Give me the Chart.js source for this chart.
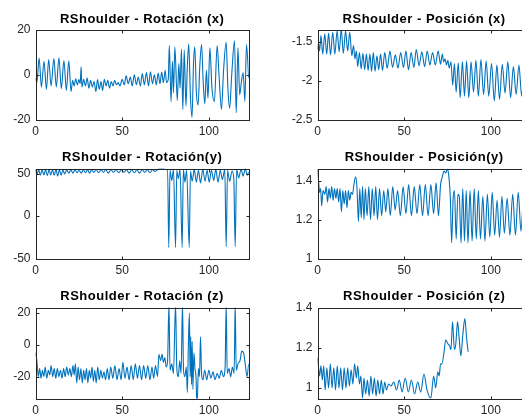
<!DOCTYPE html>
<html>
<head>
<meta charset="utf-8">
<script src="https://cdn.jsdelivr.net/npm/chart.js@4.4.1/dist/chart.umd.min.js"></script>
<style>
  body { margin: 0; background: #fff; overflow: hidden; width: 522px; height: 416px; position: relative; }
  canvas { position: absolute; }
</style>
</head>
<body>
<canvas id="rotX" width="261" height="139" style="left:0;top:0"></canvas>
<canvas id="posX" width="280" height="139" style="left:261px;top:0"></canvas>
<canvas id="rotY" width="261" height="139" style="left:0;top:139px"></canvas>
<canvas id="posY" width="280" height="139" style="left:261px;top:139px"></canvas>
<canvas id="rotZ" width="261" height="138" style="left:0;top:278px"></canvas>
<canvas id="posZ" width="280" height="138" style="left:261px;top:278px"></canvas>
<script>
// eje x comun (frames)
const xTicks = [0, 50, 100];
const xMax = 123;

// Rotacion (x)
const tRotX = [0,0.8,2.1,3.4,4.9,6.3,7.6,9.0,10.6,12.0,13.5,14.9,16.4,17.8,19.2,20.5,21.4,22.3,23.2,24.2,25.0,25.8,26.3,26.8,27.8,28.8,29.8,30.8,31.8,32.8,33.8,34.8,35.8,36.8,37.8,38.7,39.7,40.7,41.7,42.7,43.7,44.7,45.7,46.7,47.7,48.7,50.0,51.2,52.3,53.5,54.7,55.8,57.0,58.2,59.3,60.5,61.6,62.8,64.0,65.2,66.3,67.5,68.6,69.7,70.8,71.8,72.8,73.8,74.8,75.6,76.6,77.2,78.2,79.0,79.6,80.4,81.8,82.7,83.4,84.2,85.0,85.8,86.8,87.6,88.4,89.4,90.3,91.2,91.9,92.8,93.8,94.8,95.8,96.8,97.7,98.6,99.5,100.6,101.8,103.2,104.8,106.0,107.3,108.5,110.0,111.0,112.0,113.2,114.8,115.8,116.8,117.8,118.8,119.8,120.8,121.7,123.0];
const rotX = [-1.5,-3.5,7.5,-5.5,6.0,-6.5,6.8,-5.0,7.2,-5.5,7.6,-6.2,6.3,-7.0,6.2,-7.5,-2.5,-5.0,-1.8,-4.5,-2.2,-4.0,3.5,-5.5,-2.0,-5.0,-1.5,-6.0,-2.5,-5.5,-3.0,-7.5,-2.2,-6.5,-3.0,-7.0,-2.0,-5.0,-2.5,-6.0,-3.0,-5.0,-2.5,-4.5,-3.5,-5.0,-2.0,-4.5,-0.5,-4.0,-1.0,-5.0,0.0,-4.5,-1.0,-5.0,0.5,-4.5,1.0,-5.0,1.3,-4.0,0.0,-4.5,0.8,-4.0,1.2,-3.5,2.0,-3.5,-2.0,13.0,-12.0,6.0,-8.0,12.5,-11.5,5.0,-6.0,11.5,-15.5,11.0,-14.0,4.0,13.8,-10.0,-19.0,6.0,12.5,-8.0,-13.5,4.0,13.5,-4.0,-13.0,2.0,-10.5,12.0,-6.0,-12.0,13.0,-2.0,-15.5,2.0,14.5,-6.0,-15.0,0.0,15.2,-17.0,12.0,-9.0,-3.0,1.0,-12.0,13.5,-1.5];

// Posicion (x)
const tPosX = [0,0.6,1.2,2.0,3.0,4.2,5.3,6.4,7.5,8.8,10.0,11.3,12.5,13.7,14.9,16.2,17.4,18.6,19.8,20.8,21.6,22.4,23.2,24.2,25.2,26.2,27.2,28.2,29.2,30.2,31.2,32.2,33.2,34.3,35.3,36.4,37.5,38.8,40.2,41.8,43.3,44.9,46.4,48.0,49.6,51.0,52.5,54.0,55.6,57.0,58.6,60.2,61.8,63.3,64.8,66.4,68.0,69.6,71.0,72.0,72.8,73.6,74.4,75.2,76.0,77.0,78.0,79.0,80.0,81.2,82.3,83.6,84.8,86.0,87.3,88.6,90.0,91.4,92.8,94.3,95.8,97.3,98.8,100.4,102.0,103.5,105.0,106.6,108.2,109.8,111.4,113.0,114.6,116.2,117.8,119.4,121.0,123.0];
const posX = [-1.60,-1.52,-1.62,-1.42,-1.66,-1.40,-1.66,-1.39,-1.67,-1.38,-1.66,-1.36,-1.63,-1.34,-1.65,-1.36,-1.62,-1.38,-1.68,-1.55,-1.72,-1.62,-1.82,-1.64,-1.85,-1.65,-1.86,-1.66,-1.87,-1.66,-1.88,-1.64,-1.88,-1.68,-1.86,-1.66,-1.87,-1.64,-1.84,-1.62,-1.83,-1.67,-1.84,-1.64,-1.83,-1.62,-1.86,-1.64,-1.83,-1.60,-1.81,-1.63,-1.82,-1.62,-1.80,-1.64,-1.80,-1.62,-1.79,-1.66,-1.76,-1.72,-1.80,-1.74,-1.84,-1.76,-2.06,-1.78,-2.15,-1.77,-2.22,-1.76,-2.20,-1.75,-2.22,-1.76,-2.15,-1.74,-2.20,-1.73,-2.18,-1.75,-2.20,-1.78,-2.26,-1.80,-2.24,-1.79,-2.16,-1.76,-2.22,-1.82,-2.18,-1.80,-2.20,-1.78,-2.05,-1.85];

// Rotacion (y)
const tRotY = [0,0.8,1.8,2.8,3.8,4.8,5.8,6.8,7.8,8.8,9.8,10.8,11.8,12.8,13.8,14.8,15.8,16.8,18.0,19.2,20.4,21.6,22.8,24.0,25.2,26.4,27.6,28.8,30.0,31.2,32.4,33.6,35.0,36.4,37.8,39.2,40.6,42.0,43.5,45.0,46.5,48.0,49.5,51.0,52.5,54.0,55.5,57.0,58.5,60.0,61.5,63.0,64.5,66.0,67.5,69.0,70.5,72.0,74.0,75.5,76.2,76.9,77.6,78.6,79.6,80.8,81.5,82.4,83.4,84.6,85.3,86.2,87.2,88.7,89.4,90.4,91.6,92.8,94.0,95.2,96.5,97.8,99.0,100.2,101.5,102.8,104.0,105.3,106.6,107.8,109.2,110.0,110.8,112.0,113.4,114.4,115.2,116.0,117.2,118.6,119.8,121.0,122.2,123.0];
const rotY = [55,48.5,55,48,54.5,48.5,54.5,47.5,54.5,48.5,54.5,48,55,47,54.5,48,54.5,49.5,54.5,50.5,54.5,50.5,54.5,51,54,50.5,54.5,51,54.5,50.5,54.5,51.5,54.5,51,54.5,51.5,54.5,50.5,54.5,51.5,54.5,51,54.5,51.5,54.5,50.5,54.5,51,54.5,50.5,54.5,51.5,54.5,51,54.5,52.5,55,55.5,55.5,54.5,55,-37,54,42,55,-37,54,44,55,-37,55,40,54,-37,53,41,55,40,54,39,55,41,54,40,54,42,55,40,54,43,55,-36,54,41,53,44,-36,55,45,55,47,56,48,52];

// Posicion (y)
const tPosY = [0,0.6,1.2,1.8,2.4,3.2,4.2,5.0,5.8,6.6,7.4,8.2,9.0,9.8,10.6,11.4,12.2,13.0,13.8,14.6,15.4,16.2,17.0,17.8,18.6,19.4,20.2,21.0,22.0,22.8,23.6,24.4,25.2,26.0,26.8,27.6,28.6,29.6,30.6,31.6,32.6,33.6,34.6,35.8,37.0,38.2,39.4,40.6,42.0,43.4,44.8,46.2,47.8,49.4,51.0,52.6,54.2,55.8,57.4,59.0,60.6,62.2,63.8,65.4,67.0,68.4,69.8,71.0,72.0,73.0,74.0,75.0,75.8,76.6,77.4,78.2,79.0,80.0,81.0,81.8,82.8,83.8,84.8,85.8,86.8,88.0,89.2,90.4,91.6,92.8,94.0,95.4,96.6,98.0,99.4,100.8,102.2,103.6,105.0,106.4,107.8,109.4,111.0,112.6,114.2,115.8,117.4,119.0,120.6,122.2,123.0];
const posY = [1.46,1.40,1.34,1.36,1.27,1.35,1.33,1.37,1.29,1.36,1.31,1.37,1.30,1.36,1.31,1.36,1.29,1.36,1.24,1.35,1.28,1.35,1.26,1.35,1.30,1.34,1.33,1.38,1.42,1.36,1.19,1.36,1.21,1.37,1.20,1.36,1.22,1.37,1.20,1.36,1.22,1.37,1.20,1.36,1.22,1.35,1.24,1.36,1.22,1.37,1.25,1.35,1.22,1.37,1.23,1.38,1.22,1.37,1.23,1.38,1.22,1.38,1.22,1.38,1.23,1.39,1.22,1.38,1.42,1.45,1.44,1.46,1.42,1.32,1.08,1.30,1.35,1.10,1.33,1.32,1.08,1.36,1.09,1.35,1.08,1.35,1.09,1.36,1.10,1.35,1.10,1.32,1.09,1.33,1.11,1.34,1.12,1.30,1.11,1.32,1.13,1.31,1.12,1.33,1.12,1.34,1.14,1.33,1.12,1.33,1.25];

// Rotacion (z)
const tRotZ = [0,0.8,1.6,2.4,3.2,4.0,4.8,5.6,6.5,7.4,8.2,9.0,9.9,10.8,11.7,12.6,13.5,14.4,15.3,16.2,17.1,18.0,18.9,19.8,20.7,21.6,22.3,23.0,23.8,24.6,25.4,26.2,27.0,27.8,28.6,29.4,30.2,31.0,31.8,32.6,33.4,34.2,35.0,35.9,36.8,37.7,38.6,39.5,40.4,41.4,42.4,43.4,44.6,45.8,47.0,48.2,49.4,50.4,51.6,52.8,54.0,55.2,56.4,57.6,58.8,60.0,61.2,62.4,63.6,64.8,66.0,67.2,68.2,69.2,70.4,71.2,72.2,73.0,73.8,74.6,75.4,76.2,77.0,77.6,78.6,79.6,80.8,81.5,82.4,83.2,84.0,84.8,85.4,86.2,87.0,87.6,88.2,88.8,89.2,89.6,90.0,90.4,90.8,91.4,92.0,92.6,93.2,94.0,94.6,95.2,95.8,96.6,97.6,98.8,100.0,101.2,102.4,103.6,104.8,106.0,107.2,108.4,109.4,110.0,110.6,111.6,112.6,113.6,114.6,115.2,115.8,116.8,118.0,119.0,120.0,121.0,122.0,123.0];
const rotZ = [-5,-10,-20,-15,-21,-16,-20,-14,-21,-16,-19,-13,-20,-15,-21,-15,-20,-16,-21,-15,-20,-14,-19,-15,-20,-13,-19,-12,-24,-14,-22,-15,-24,-16,-22,-15,-24,-16,-21,-14,-23,-16,-24,-14,-22,-16,-21,-17,-22,-15,-22,-14,-21,-13,-22,-15,-22,-11,-21,-14,-22,-13,-22,-12,-21,-13,-22,-13,-21,-13,-22,-14,-21,-13,-20,-6,-10,-6,-11,-8,-14,-10,26,-16,-12,-18,26,-14,-20,-10,-18,26,-16,-20,-14,-30,0,20,-20,5,-25,2,-28,-5,-15,-20,-40,-15,-20,5,-18,-22,-16,-22,-16,-21,-17,-22,-18,-21,-16,-20,-14,26,-18,-15,-20,-14,-18,26,-16,-12,-10,-4,-5,-12,-20,-12];

// Posicion (z)
const tPosZ = [0,0.6,1.2,2.0,2.8,3.6,4.4,5.4,6.4,7.4,8.4,9.4,10.4,11.4,12.4,13.4,14.4,15.4,16.4,17.4,18.4,19.4,20.4,21.4,22.4,23.2,24.2,25.0,26.0,26.8,27.8,28.8,29.8,30.8,31.8,32.8,33.8,34.8,35.8,36.8,37.8,38.8,39.8,41.0,42.4,44.0,45.6,47.2,48.8,50.6,52.4,54.2,56.0,57.8,59.6,61.4,63.2,65.4,67.0,68.2,69.4,70.2,71.0,71.8,73.0,74.0,75.2,76.2,77.0,77.9,79.0,79.8,80.8,81.7,82.7,83.8,85.0,86.0,86.9];
const posZ = [1.15,1.10,1.06,1.11,1.04,1.11,0.99,1.10,1.00,1.12,1.00,1.10,0.99,1.11,1.00,1.10,0.99,1.10,1.00,1.10,1.01,1.09,1.02,1.12,1.05,1.11,1.02,1.06,0.95,1.05,0.97,1.04,0.96,1.06,0.97,1.05,0.96,1.04,0.97,1.04,0.97,1.03,0.99,1.02,1.01,1.03,0.99,1.04,0.98,1.05,0.98,1.04,0.97,1.03,0.98,1.07,0.99,0.95,1.06,1.00,1.08,1.06,1.12,1.12,1.18,1.24,1.22,1.21,1.19,1.33,1.19,1.22,1.33,1.25,1.16,1.26,1.345,1.25,1.18];

const FONT = '"Liberation Sans", Arial, Helvetica, sans-serif';
const AXIS = '#262626';

// marco completo con marcas hacia dentro (estilo MATLAB) y titulo en negrita
const axesBox = {
  id: 'axesBox',
  afterDraw(chart, args, opts) {
    const { ctx, chartArea: a, scales } = chart;
    const L = Math.round(a.left) + 0.5, R = Math.round(a.right) + 0.5;
    const T = Math.round(a.top) + 0.5, B = Math.round(a.bottom) + 0.5;
    ctx.save();
    ctx.strokeStyle = AXIS;
    ctx.lineWidth = 1;
    ctx.strokeRect(L, T, R - L, B - T);
    ctx.beginPath();
    scales.x.ticks.forEach(t => {
      const px = Math.round(scales.x.getPixelForValue(t.value)) + 0.5;
      ctx.moveTo(px, B); ctx.lineTo(px, B - 3);
      ctx.moveTo(px, T); ctx.lineTo(px, T + 3);
    });
    scales.y.ticks.forEach(t => {
      const py = Math.round(scales.y.getPixelForValue(t.value)) + 0.5;
      ctx.moveTo(L, py); ctx.lineTo(L + 3, py);
      ctx.moveTo(R, py); ctx.lineTo(R - 3, py);
    });
    ctx.stroke();
    ctx.fillStyle = '#000';
    ctx.font = 'bold 13px ' + FONT;
    ctx.letterSpacing = '0.5px';
    ctx.textAlign = 'center';
    ctx.textBaseline = 'middle';
    ctx.fillText(opts.text, (a.left + a.right) / 2, a.top - 11);
    ctx.restore();
  }
};

function subplot(id, title, xs, ys, yMin, yMax, yTicks, box) {
  const cv = document.getElementById(id);
  const W = cv.width, H = cv.height;
  return new Chart(cv, {
    type: 'line',
    data: {
      datasets: [{
        data: xs.map((x, i) => ({ x: x, y: ys[i] })),
        borderColor: '#0072BD',
        borderWidth: 1.1,
        pointRadius: 0,
        cubicInterpolationMode: 'monotone',
        clip: 0
      }]
    },
    options: {
      responsive: false,
      animation: false,
      events: [],
      layout: { padding: { left: 0, top: box.top, right: W - box.right, bottom: 0 } },
      plugins: { legend: { display: false }, tooltip: { enabled: false }, axesBox: { text: title } },
      scales: {
        x: {
          type: 'linear', min: 0, max: xMax,
          grid: { display: false, drawTicks: false }, border: { display: false },
          afterBuildTicks: s => { s.ticks = xTicks.map(v => ({ value: v })); },
          afterFit: s => { s.height = H - box.bottom; },
          ticks: { color: AXIS, font: { family: FONT, size: 12 }, padding: 5, maxRotation: 0, callback: v => String(v) }
        },
        y: {
          type: 'linear', min: yMin, max: yMax,
          grid: { display: false, drawTicks: false }, border: { display: false },
          afterBuildTicks: s => { s.ticks = yTicks.map(v => ({ value: v })); },
          afterFit: s => { s.width = box.left; },
          ticks: { color: AXIS, font: { family: FONT, size: 12 }, padding: 5, callback: v => String(v) }
        }
      }
    },
    plugins: [axesBox]
  });
}

const leftBox = (top, bottom) => ({ left: 35.5, right: 248.7, top: top, bottom: bottom });
const rightBox = (top, bottom) => ({ left: 56.5, right: 269.7, top: top, bottom: bottom });

subplot('rotX', 'RShoulder - Rotación (x)', tRotX, rotX, -20, 20, [-20, 0, 20], leftBox(30, 119.5));
subplot('posX', 'RShoulder - Posición (x)', tPosX, posX, -2.5, -1.35, [-2.5, -2, -1.5], rightBox(30, 119.5));
subplot('rotY', 'RShoulder - Rotación(y)', tRotY, rotY, -50, 56, [-50, 0, 50], leftBox(29.5, 119.5));
subplot('posY', 'RShoulder - Posición(y)', tPosY, posY, 1, 1.463, [1, 1.2, 1.4], rightBox(29.5, 119.5));
subplot('rotZ', 'RShoulder - Rotación (z)', tRotZ, rotZ, -33.8, 23.5, [-20, 0, 20], leftBox(29.5, 120.5));
subplot('posZ', 'RShoulder - Posición (z)', tPosZ, posZ, 0.948, 1.4, [1, 1.2, 1.4], rightBox(29.5, 120.5));
</script>
</body>
</html>
